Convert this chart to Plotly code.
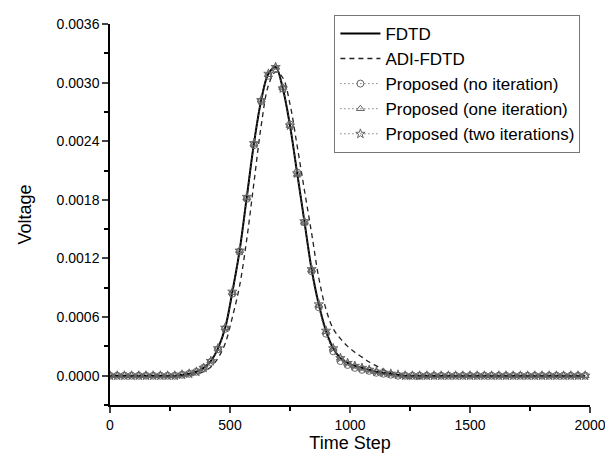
import plotly.graph_objects as go

# time steps (sampled every 30)
time_step = list(range(0, 2000, 30))

fdtd = [0, 0, 0, 0, 0, 0, 0, 0, 0, 0,
        0.00001, 0.00002, 0.00004, 0.00008, 0.00015, 0.00028, 0.00049, 0.00086, 0.00128, 0.00183,
        0.00238, 0.00282, 0.00309, 0.00316, 0.00294, 0.00256, 0.00207, 0.00158, 0.00109, 0.00073,
        0.00046, 0.00028, 0.00018, 0.00013, 0.00010, 0.00008, 0.00006, 0.00004, 0.00003, 0.00002,
        0.00001, 0, 0, 0, 0, 0, 0, 0, 0, 0,
        0, 0, 0, 0, 0, 0, 0, 0, 0, 0,
        0, 0, 0, 0, 0, 0, 0]

adi_fdtd = [0, 0, 0, 0, 0, 0, 0, 0, 0, 0,
            0, 0.00001, 0.00002, 0.00004, 0.00009, 0.00018, 0.00033, 0.00060, 0.00092, 0.00140,
            0.00198, 0.00256, 0.00297, 0.00311, 0.00305, 0.00278, 0.00235, 0.00190, 0.00146, 0.00100,
            0.00068, 0.00048, 0.00038, 0.00030, 0.00024, 0.00019, 0.00014, 0.00010, 0.00006, 0.00003,
            0.00000, -0.00002, -0.00003, -0.00003, -0.00002, -0.00001, 0, 0, 0, 0,
            0, 0, 0, 0, 0, 0, 0, 0, 0, 0,
            0, 0, 0, 0, 0, 0, 0]

prop_none = [0, 0, 0, 0, 0, 0, 0, 0, 0, 0,
             0.00001, 0.00002, 0.00004, 0.00008, 0.00014, 0.00027, 0.00048, 0.00084, 0.00127, 0.00181,
             0.00236, 0.00281, 0.00307, 0.00314, 0.00294, 0.00257, 0.00208, 0.00157, 0.00107, 0.00070,
             0.00043, 0.00025, 0.00015, 0.00011, 0.00008, 0.00006, 0.00005, 0.00003, 0.00002, 0.00001,
             0, 0, 0, 0, 0, 0, 0, 0, 0, 0,
             0, 0, 0, 0, 0, 0, 0, 0, 0, 0,
             0, 0, 0, 0, 0, 0, 0]

prop_one = [0, 0, 0, 0, 0, 0, 0, 0, 0, 0,
            0.00001, 0.00002, 0.00004, 0.00008, 0.00015, 0.00028, 0.00049, 0.00085, 0.00128, 0.00182,
            0.00237, 0.00282, 0.00308, 0.00316, 0.00295, 0.00256, 0.00206, 0.00157, 0.00108, 0.00072,
            0.00045, 0.00028, 0.00018, 0.00013, 0.00010, 0.00008, 0.00006, 0.00004, 0.00003, 0.00002,
            0.00001, 0, 0, 0, 0, 0, 0, 0, 0, 0,
            0, 0, 0, 0, 0, 0, 0, 0, 0, 0,
            0, 0, 0, 0, 0, 0, 0]

prop_two = [0, 0, 0, 0, 0, 0, 0, 0, 0, 0,
            0.00001, 0.00002, 0.00004, 0.00008, 0.00015, 0.00028, 0.00049, 0.00086, 0.00128, 0.00183,
            0.00238, 0.00282, 0.00309, 0.00316, 0.00294, 0.00256, 0.00207, 0.00158, 0.00109, 0.00073,
            0.00046, 0.00028, 0.00018, 0.00013, 0.00010, 0.00008, 0.00006, 0.00004, 0.00003, 0.00002,
            0.00001, 0, 0, 0, 0, 0, 0, 0, 0, 0,
            0, 0, 0, 0, 0, 0, 0, 0, 0, 0,
            0, 0, 0, 0, 0, 0, 0]

fig = go.Figure()

fig.add_trace(go.Scatter(x=time_step, y=fdtd, name="FDTD", mode="lines",
                         line=dict(color="black", width=2, shape="spline")))
fig.add_trace(go.Scatter(x=time_step, y=adi_fdtd, name="ADI-FDTD", mode="lines",
                         line=dict(color="#222", width=1.3, dash="5px,4px", shape="spline")))

markers = [("Proposed (no iteration)", prop_none, "circle-open"),
           ("Proposed (one iteration)", prop_one, "triangle-up-open"),
           ("Proposed (two iterations)", prop_two, "star-open")]
for name, vals, sym in markers:
    fig.add_trace(go.Scatter(x=time_step, y=vals, name=name, mode="lines+markers",
                             line=dict(color="#444", width=1, dash="1px,3px", shape="spline"),
                             marker=dict(symbol=sym, size=7, color="#666",
                                         line=dict(width=1, color="#666"))))

axis_font = dict(family="Liberation Sans, Arial", size=14, color="black")

# page body has an 8px margin, so margins are shifted to compensate
fig.update_layout(
    width=613, height=463,
    margin=dict(l=102, r=31, t=7, b=66),
    paper_bgcolor="white", plot_bgcolor="white",
    font=dict(family="Liberation Sans, Arial", color="black"),
    showlegend=True,
    legend=dict(x=0.98, y=1.024, xanchor="right", yanchor="top",
                bordercolor="#777", borderwidth=1, bgcolor="white",
                font=dict(size=17), tracegroupgap=0, itemwidth=40),
    xaxis=dict(range=[0, 2000], dtick=500, tick0=0, showgrid=False, zeroline=False,
               automargin=False,
               showline=True, linecolor="black", linewidth=1.5,
               ticks="outside", ticklen=6, tickwidth=1.5, tickfont=axis_font,
               minor=dict(dtick=250, ticks="outside", ticklen=4, tickcolor="black"),
               title=dict(text="Time Step", font=dict(size=18), standoff=3)),
    yaxis=dict(range=[-0.0003, 0.0036], dtick=0.0006, tick0=0, tickformat=".4f",
               showgrid=False, zeroline=False, automargin=False,
               showline=True, linecolor="black", linewidth=1.5,
               ticks="outside", ticklen=6, tickwidth=1.5, tickfont=axis_font,
               minor=dict(dtick=0.0003, ticks="outside", ticklen=4, tickcolor="black"),
               title=dict(text="Voltage", font=dict(size=18), standoff=20)),
)

fig.write_html("out.html")
